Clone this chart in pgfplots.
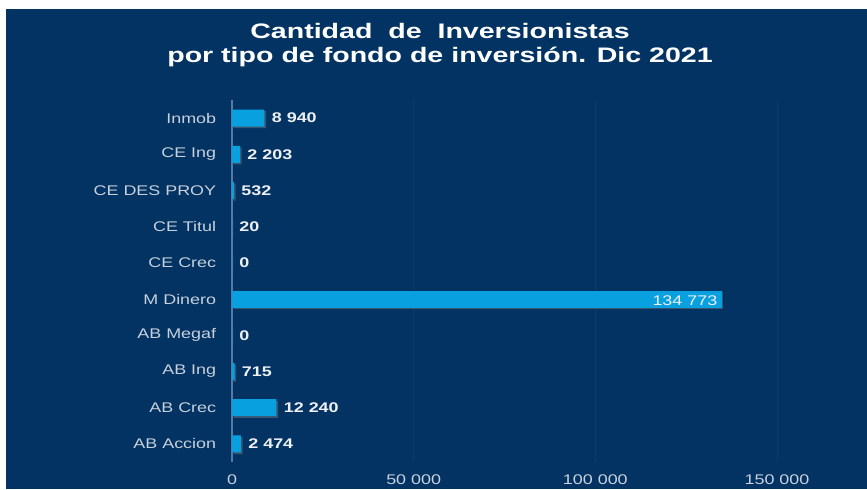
\documentclass[border=0pt]{standalone}
\usepackage{pgfplots}
\pgfplotsset{compat=1.18}
\usepackage{pgfplotstable}
\usepackage{fontspec}
\setmainfont{Liberation Sans}[FakeStretch=1.28]
\newfontfamily\titlefont{Liberation Sans}[FakeStretch=1.36]
\usetikzlibrary{shadows}
\definecolor{bg}{RGB}{2,51,99}
\definecolor{barblue}{RGB}{8,160,222}
\definecolor{gridc}{RGB}{12,59,108}
\definecolor{axc}{RGB}{84,122,168}
\definecolor{lbl}{RGB}{200,208,220}
\definecolor{vlbl}{RGB}{238,240,244}

\pgfplotstableread[col sep=comma]{
idx,val,lab
0,2474,2 474
1,12240,12 240
2,715,715
3,0,0
5,0,0
6,20,20
7,532,532
8,2203,2 203
9,8940,8 940
}\datamain

\begin{document}
\begin{tikzpicture}[x=1pt,y=1pt]
\useasboundingbox (0,0) rectangle (433.5,244.5);
\fill[white] (0,0) rectangle (433.5,244.5);
\fill[bg] (3,0) rectangle (433.5,240);
\node[anchor=base, text=white, font=\titlefont\fontsize{10.5}{12}\selectfont\bfseries] at (220,225.25) {Cantidad\ \ de\ \ Inversionistas};
\node[anchor=base, text=white, font=\titlefont\fontsize{10.5}{12}\selectfont\bfseries] at (220,213.5) {por tipo de fondo de inversión. Dic 2021};
\begin{axis}[
  at={(116pt,13.5pt)}, anchor=south west,
  scale only axis, width=317.5pt, height=181pt,
  xmin=0, xmax=174768, ymin=-0.5, ymax=9.5,
  axis x line=bottom, axis y line=left,
  axis line style={-},
  x axis line style={draw=none},
  y axis line style={draw=axc, line width=0.6pt},
  tick style={draw=none},
  xmajorgrids, major grid style={draw=gridc, line width=0.5pt},
  xtick={0,50000,100000,150000},
  xticklabels={0,{50 000},{100 000},{150 000}},
  ytick={0,1,2,3,4,5,6,7,8,9},
  yticklabels={AB Accion,AB Crec,AB Ing,AB Megaf,M Dinero,CE Crec,CE Titul,CE DES PROY,CE Ing,Inmob},
  xticklabel style={anchor=base, yshift=-9.3pt, text=lbl, font=\fontsize{7}{8}\selectfont},
  yticklabel style={anchor=east, inner sep=0pt, xshift=-5.6pt, text=lbl, font=\fontsize{7}{8}\selectfont},
  /pgf/number format/assume math mode=true,
  clip=false,
]
\addplot[xbar, bar width=8.5pt, bar shift=0pt, fill=barblue, draw=none,
  drop shadow={shadow xshift=0.8pt, shadow yshift=-0.8pt, opacity=0.45},
  nodes near coords, point meta=explicit symbolic,
  nodes near coords style={anchor=west, inner sep=0pt, xshift=3.5pt, text=vlbl, font=\fontsize{7}{8}\selectfont\bfseries}]
  table[x=val, y=idx, meta=lab] {\datamain};
\addplot[xbar, bar width=8.5pt, bar shift=0pt, fill=barblue, draw=none,
  drop shadow={shadow xshift=0.8pt, shadow yshift=-0.8pt, opacity=0.45},
  nodes near coords={134 773},
  nodes near coords style={anchor=east, inner sep=0pt, xshift=-2pt, yshift=-0.8pt, text=vlbl, font=\fontsize{7}{8}\selectfont}]
  coordinates {(134773,4)};
\end{axis}
\end{tikzpicture}
\end{document}
